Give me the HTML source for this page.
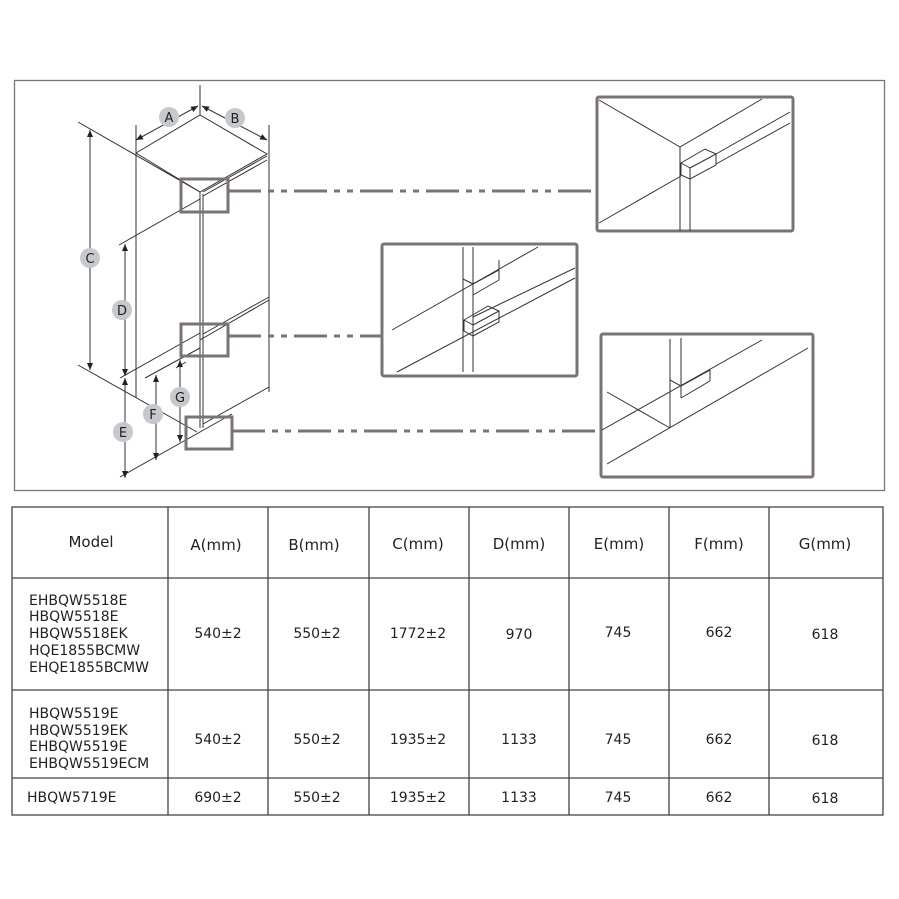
<!DOCTYPE html>
<html><head><meta charset="utf-8"><style>
html,body{margin:0;padding:0;background:#fff;}
svg{display:block;}
text{font-family:"DejaVu Sans","Liberation Sans",sans-serif;fill:#222;}
</style></head><body>
<svg width="899" height="899" viewBox="0 0 899 899" xmlns="http://www.w3.org/2000/svg">
<defs>
<marker id="ar" markerWidth="8" markerHeight="8" refX="7" refY="4" orient="auto-start-reverse" markerUnits="userSpaceOnUse">
<path d="M0,1 L7,4 L0,7 z" fill="#222"/></marker>
</defs>
<rect x="14.5" y="80.5" width="870" height="410" fill="none" stroke="#777" stroke-width="1.3"/>
<g stroke="#333" stroke-width="1" fill="none">
<line x1="200" y1="85" x2="200" y2="115"/>
<line x1="136" y1="125" x2="136" y2="398"/>
<line x1="269" y1="125" x2="269" y2="392"/>
<polyline points="136,153 200,115 267,154 200,192 136,153"/>
<line x1="78" y1="122" x2="200" y2="192"/>
<line x1="200" y1="192" x2="200" y2="428"/>
<line x1="203" y1="194" x2="203" y2="428"/>
<line x1="203" y1="192" x2="267" y2="156"/>
<line x1="203" y1="196" x2="267" y2="160"/>
<line x1="119" y1="245" x2="200" y2="199"/>
<line x1="200" y1="340" x2="269" y2="300"/>
<line x1="203" y1="334" x2="269" y2="297"/>
<line x1="120" y1="378" x2="200" y2="333"/>
<line x1="145" y1="378" x2="200" y2="348"/>
<line x1="203" y1="424" x2="269" y2="387"/>
<line x1="78" y1="365" x2="197" y2="432"/>
<line x1="120" y1="477" x2="232" y2="414"/>
<line x1="176" y1="368" x2="186" y2="362"/>
<line x1="136" y1="140" x2="198" y2="106" marker-start="url(#ar)" marker-end="url(#ar)"/>
<line x1="202" y1="106" x2="267" y2="140" marker-start="url(#ar)" marker-end="url(#ar)"/>
<line x1="90" y1="130" x2="90" y2="370" marker-start="url(#ar)" marker-end="url(#ar)"/>
<line x1="125" y1="244" x2="125" y2="376" marker-start="url(#ar)" marker-end="url(#ar)"/>
<line x1="125" y1="378" x2="125" y2="478" marker-start="url(#ar)" marker-end="url(#ar)"/>
<line x1="156" y1="375" x2="156" y2="460" marker-start="url(#ar)" marker-end="url(#ar)"/>
<line x1="180" y1="360" x2="180" y2="442" marker-start="url(#ar)" marker-end="url(#ar)"/>
</g>
<g fill="#c5c8cc">
<circle cx="169" cy="117" r="10"/><circle cx="235" cy="118" r="10"/>
<circle cx="90" cy="258" r="10"/><circle cx="122" cy="310" r="10"/>
<circle cx="180" cy="397" r="10"/><circle cx="153" cy="414" r="10"/>
<circle cx="123" cy="432" r="10"/>
</g>
<g font-size="13" text-anchor="middle">
<text x="169" y="122">A</text><text x="235" y="123">B</text>
<text x="90" y="263">C</text><text x="122" y="315">D</text>
<text x="180" y="402">G</text><text x="153" y="419">F</text>
<text x="123" y="437">E</text>
</g>
<g stroke="#7a7370" stroke-width="3" fill="none">
<rect x="181" y="179" width="47" height="33"/>
<rect x="181" y="324" width="47" height="32"/>
<rect x="186" y="417" width="46" height="32"/>
<rect x="597" y="97" width="196" height="134" rx="2"/>
<rect x="382" y="244" width="195" height="132" rx="2"/>
<rect x="601" y="334" width="212" height="143" rx="2"/>
<g stroke-dasharray="33,7,6,7,6,7">
<line x1="228" y1="191" x2="597" y2="191"/>
<line x1="232" y1="431" x2="601" y2="431"/>
<line x1="228" y1="336" x2="382" y2="336"/>
</g>
</g>
<g stroke="#333" stroke-width="1" fill="none">
<line x1="599" y1="100" x2="680" y2="147"/>
<line x1="680" y1="147" x2="762" y2="99"/>
<line x1="680" y1="147" x2="680" y2="231"/>
<line x1="690" y1="175" x2="690" y2="231"/>
<line x1="599" y1="223" x2="681" y2="176"/>
<polygon points="681,163 705,149 716,154 716,165 690,179 681,175"/>
<line x1="681" y1="163" x2="690" y2="168"/><line x1="690" y1="168" x2="716" y2="154"/><line x1="690" y1="168" x2="690" y2="179"/>
<line x1="716" y1="154" x2="790" y2="112"/>
<line x1="716" y1="164" x2="790" y2="123"/>
<line x1="463" y1="247" x2="463" y2="372"/>
<line x1="473" y1="247" x2="473" y2="372"/>
<line x1="392" y1="330" x2="538" y2="247"/>
<line x1="397" y1="372" x2="575" y2="278"/>
<line x1="473" y1="317" x2="575" y2="268"/>
<polyline points="463,279 473,284 499,270 499,260"/>
<line x1="473" y1="284" x2="473" y2="295"/><line x1="473" y1="295" x2="499" y2="280"/><line x1="499" y1="270" x2="499" y2="280"/>
<polygon points="464,320 488,306 499,311 499,322 473,336 464,331"/>
<line x1="464" y1="320" x2="473" y2="325"/><line x1="473" y1="325" x2="499" y2="311"/><line x1="473" y1="325" x2="473" y2="336"/>
<line x1="670" y1="339" x2="670" y2="428"/>
<line x1="681" y1="338" x2="681" y2="398"/>
<line x1="602" y1="430" x2="762" y2="340"/>
<line x1="607" y1="464" x2="808" y2="348"/>
<line x1="607" y1="392" x2="670" y2="428"/>
<polyline points="670,380 681,386 710,370"/>
<line x1="710" y1="370" x2="710" y2="381"/><line x1="681" y1="398" x2="710" y2="381"/>
</g>
<g stroke="#444" stroke-width="1.3" fill="none">
<rect x="12" y="507" width="871" height="308"/>
<line x1="12" y1="578" x2="883" y2="578"/>
<line x1="12" y1="690" x2="883" y2="690"/>
<line x1="12" y1="778" x2="883" y2="778"/>
<line x1="168" y1="507" x2="168" y2="815"/>
<line x1="268" y1="507" x2="268" y2="815"/>
<line x1="369" y1="507" x2="369" y2="815"/>
<line x1="469" y1="507" x2="469" y2="815"/>
<line x1="569" y1="507" x2="569" y2="815"/>
<line x1="669" y1="507" x2="669" y2="815"/>
<line x1="769" y1="507" x2="769" y2="815"/>
</g>
<g font-size="15" text-anchor="middle">
<text x="91" y="547">Model</text>
<text x="216" y="550">A(mm)</text><text x="314" y="550">B(mm)</text>
<text x="418" y="549">C(mm)</text><text x="519" y="549">D(mm)</text>
<text x="619" y="549">E(mm)</text><text x="719" y="549">F(mm)</text>
<text x="825" y="549">G(mm)</text>
</g>
<g font-size="14" text-anchor="middle">
<text x="218" y="638">540±2</text><text x="317" y="638">550±2</text><text x="418" y="638">1772±2</text>
<text x="519" y="639">970</text><text x="618" y="637">745</text><text x="719" y="637">662</text><text x="825" y="639">618</text>
<text x="218" y="744">540±2</text><text x="317" y="744">550±2</text><text x="418" y="744">1935±2</text>
<text x="519" y="744">1133</text><text x="618" y="744">745</text><text x="719" y="744">662</text><text x="825" y="745">618</text>
<text x="218" y="802">690±2</text><text x="317" y="802">550±2</text><text x="418" y="802">1935±2</text>
<text x="519" y="802">1133</text><text x="618" y="802">745</text><text x="719" y="802">662</text><text x="825" y="803">618</text>
</g>
<g font-size="14">
<text x="29" y="605">EHBQW5518E</text>
<text x="29" y="621">HBQW5518E</text>
<text x="29" y="638">HBQW5518EK</text>
<text x="29" y="655">HQE1855BCMW</text>
<text x="29" y="672">EHQE1855BCMW</text>
<text x="29" y="718">HBQW5519E</text>
<text x="29" y="735">HBQW5519EK</text>
<text x="29" y="751">EHBQW5519E</text>
<text x="29" y="768">EHBQW5519ECM</text>
<text x="27" y="802">HBQW5719E</text>
</g>
</svg>
</body></html>
